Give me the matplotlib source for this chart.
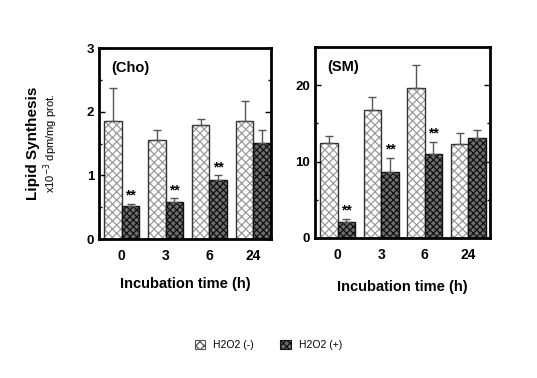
import matplotlib.pyplot as plt
import numpy as np
from matplotlib.patches import Patch
from matplotlib.ticker import MultipleLocator

# data
times = ["0", "3", "6", "24"]
cho_minus = [1.86, 1.56, 1.79, 1.86]
cho_minus_err = [0.51, 0.16, 0.09, 0.31]
cho_plus = [0.52, 0.58, 0.92, 1.51]
cho_plus_err = [0.03, 0.06, 0.08, 0.21]
sm_minus = [12.4, 16.7, 19.65, 12.3]
sm_minus_err = [0.9, 1.7, 2.95, 1.4]
sm_plus = [2.1, 8.6, 11.0, 13.1]
sm_plus_err = [0.4, 1.9, 1.6, 1.0]
signif = [True, True, True, False]

plt.rcParams['font.family'] = ['Liberation Sans', 'DejaVu Sans']
plt.rcParams['hatch.linewidth'] = 0.9

fig = plt.figure(figsize=(5.37, 3.78), dpi=100)
ax1 = fig.add_axes([0.1844, 0.3677, 0.320, 0.505])
ax2 = fig.add_axes([0.5866, 0.3704, 0.326, 0.505])

w = 0.4
x = np.arange(len(times))


def draw(ax, minus, minus_err, plus, plus_err, ylim, major, minor, title, star_off):
    ax.bar(x - w / 2, minus, w, color='white', hatch='xxxx', edgecolor='#9a9a9a', lw=0)
    ax.bar(x - w / 2, minus, w, fill=False, edgecolor='#333333', lw=1)
    ax.bar(x + w / 2, plus, w, color='#6e6e6e', hatch='xxxxx', edgecolor='#111111', lw=0)
    ax.bar(x + w / 2, plus, w, fill=False, edgecolor='#111111', lw=1)
    ax.errorbar(x - w / 2, minus, yerr=[np.zeros(4), minus_err], fmt='none',
                ecolor='#555555', elinewidth=1, capsize=3, capthick=1)
    ax.errorbar(x + w / 2, plus, yerr=[np.zeros(4), plus_err], fmt='none',
                ecolor='#555555', elinewidth=1, capsize=3, capthick=1)
    for i in range(4):
        if signif[i]:
            ax.text(x[i] + w / 2, plus[i] + plus_err[i] + star_off, '**',
                    ha='center', va='bottom', fontsize=10, fontweight='bold')
    ax.set_ylim(0, ylim)
    ax.yaxis.set_major_locator(MultipleLocator(major))
    ax.yaxis.set_minor_locator(MultipleLocator(minor))
    ax.set_xticks(x)
    ax.set_xticklabels(times)
    ax.tick_params(axis='x', length=0, pad=7, labelsize=10)
    for lb in ax.get_xticklabels() + ax.get_yticklabels():
        lb.set_fontweight('bold')
    ax.tick_params(axis='y', which='both', direction='in', left=True, right=True,
                   labelsize=9.5)
    ax.tick_params(axis='y', which='major', length=4, width=1)
    ax.tick_params(axis='y', which='minor', length=2.5, width=1)
    for s in ax.spines.values():
        s.set_linewidth(2)
    ax.text(0.07, 0.93, title, transform=ax.transAxes, fontsize=10.5,
            fontweight='bold', va='top', ha='left')


draw(ax1, cho_minus, cho_minus_err, cho_plus, cho_plus_err, 3, 1, 0.5, '(Cho)', 0.02)
ax1.set_xlim(-0.52, 3.4)
draw(ax2, sm_minus, sm_minus_err, sm_plus, sm_plus_err, 25, 10, 5, '(SM)', 0.2)
ax2.set_xlim(-0.52, 3.5)

ax1.set_xlabel('Incubation time (h)', fontsize=10.5, fontweight='bold', labelpad=10)
ax2.set_xlabel('Incubation time (h)', fontsize=10.5, fontweight='bold', labelpad=13)

fig.text(0.062, 0.62, 'Lipid Synthesis', rotation=90, fontsize=11,
         fontweight='bold', ha='center', va='center')
fig.text(0.094, 0.62, r'x10$^{-3}$ dpm/mg prot.', rotation=90, fontsize=8,
         ha='center', va='center')

handles = [Patch(facecolor='white', hatch='xxxx', edgecolor='#555555', lw=0.8),
           Patch(facecolor='#6e6e6e', hatch='xxxxx', edgecolor='#111111', lw=0.8)]
fig.legend(handles, ['H2O2 (-)', 'H2O2 (+)'], loc='center', ncol=2,
           bbox_to_anchor=(0.5, 0.087), frameon=False, fontsize=7.5,
           handlelength=1.0, handleheight=1.0, columnspacing=2.5, handletextpad=0.8)

fig.savefig('out.png', dpi=100)
